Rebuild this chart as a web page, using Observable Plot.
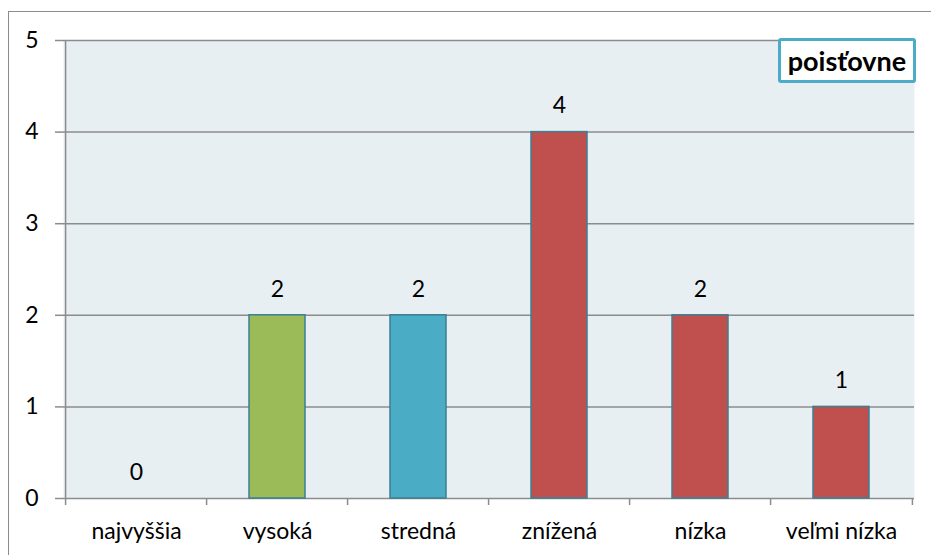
<!DOCTYPE html>
<html><head><meta charset="utf-8">
<script src="https://cdn.jsdelivr.net/npm/d3@7"></script>
<script src="https://cdn.jsdelivr.net/npm/@observablehq/plot@0.6"></script>
<style>
body{margin:0;width:931px;height:555px;overflow:hidden;background:#fff;font-family:Lato,sans-serif;position:relative}
#border{position:absolute;left:8px;top:11px;width:1000px;height:1000px;border-left:1px solid #8c8c8c;border-top:1px solid #8c8c8c}
#chart{position:absolute;left:0;top:0}
#legend{position:absolute;left:778px;top:38px;width:132px;height:39px;border:3px solid #4BACC6;border-radius:3px;background:#fff;font-weight:bold;font-size:27px;display:flex;align-items:center;justify-content:center;color:#000;font-family:Lato,sans-serif}
</style></head><body>
<div id="border"></div>
<div id="chart"></div>
<div id="legend"></div>
<script>
const categories = ["najvyššia", "vysoká", "stredná", "znížená", "nízka", "veľmi nízka"];
const values = [0, 2, 2, 4, 2, 1];
const barColors = ["#C0504D", "#9BBB59", "#4BACC6", "#C0504D", "#C0504D", "#C0504D"];
const yTicks = [0, 1, 2, 3, 4, 5];
const legendLabel = "poisťovne";

const data = categories.map((c, i) => ({cat: c, value: values[i], color: barColors[i]}));

const W = 931, H = 555, mL = 63, mR = 17, mT = 40, mB = 57;
const step = (W - mL - mR) / categories.length;
const grid = "#8c8c8c";
const fs = 23;

const chart = Plot.plot({
  width: W, height: H,
  marginLeft: mL, marginRight: mR, marginTop: mT, marginBottom: mB,
  style: {fontFamily: "Lato, sans-serif", fontSize: fs + "px", color: "black", background: "transparent"},
  x: {domain: categories, paddingInner: 0.6, paddingOuter: 0.3},
  y: {domain: [0, 5]},
  color: {type: "identity"},
  marks: [
    Plot.frame({fill: "#E8EFF3", stroke: null}),
    Plot.ruleY(yTicks, {stroke: grid, strokeWidth: 1.5}),
    Plot.ruleX([categories[0]], {x: d => d, y1: 0, y2: 5, dx: -step / 2, stroke: grid, strokeWidth: 1.5}),
    Plot.ruleX(categories, {x: d => d, y1: 0, y2: 0, insetBottom: -7, dx: -step / 2, stroke: grid, strokeWidth: 1.5}),
    Plot.ruleX([categories[categories.length - 1]], {x: d => d, y1: 0, y2: 0, insetBottom: -7, dx: step / 2, stroke: grid, strokeWidth: 1.5}),
    Plot.axisY(yTicks, {tickSize: 8, tickPadding: 17, tickFormat: "d", stroke: grid, strokeWidth: 1.5, fill: "black", fontSize: fs, label: null}),
    Plot.axisX({tickSize: 0, tickPadding: 24, fill: "black", fontSize: fs, label: null}),
    Plot.barY(data, {filter: d => d.value > 0, x: "cat", y: "value", fill: "color", stroke: "#3A7F95", strokeWidth: 1.5}),
    Plot.text(data, {x: "cat", y: "value", text: d => String(d.value), dy: -26, fontSize: fs, fill: "black"})
  ]
});
document.getElementById("chart").append(chart);
document.getElementById("legend").textContent = legendLabel;
</script>
</body></html>
